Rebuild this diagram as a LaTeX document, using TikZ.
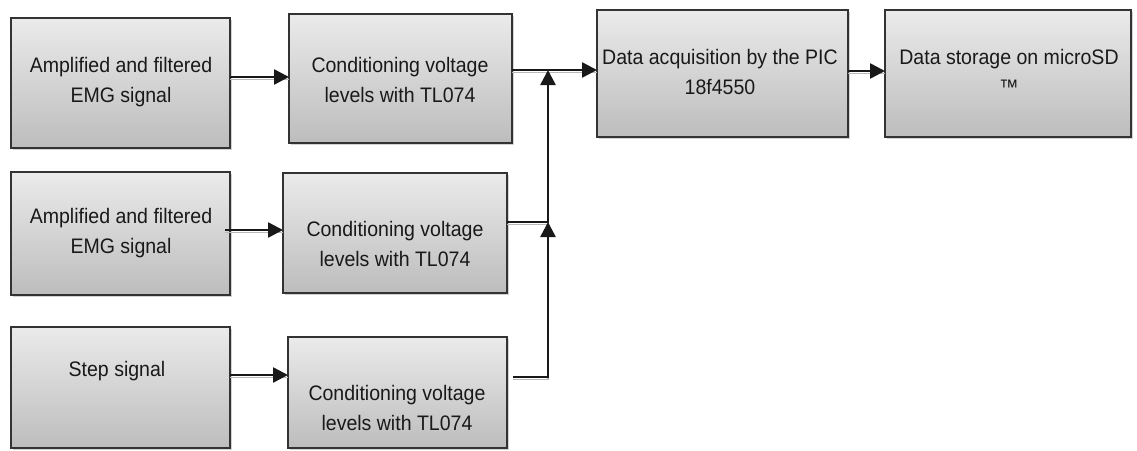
\documentclass[tikz,border=0pt]{standalone}
\usepackage{fontspec}
\setmainfont[FakeStretch=0.93]{Liberation Sans}
\usetikzlibrary{arrows.meta,shadows,calc}
\begin{document}
\begin{tikzpicture}[x=1pt,y=-1pt,
  blk/.style={draw=black!80, line width=1.6pt, top color=gray!16, bottom color=gray!52,
    inner sep=0pt, outer sep=0pt,
    drop shadow={shadow xshift=1.5pt, shadow yshift=-2pt, opacity=0.35, fill=gray}},
  txt/.style={font=\fontsize{21}{30}\selectfont, text=black!90, align=center, inner sep=0pt},
  arr/.style={line width=2.6pt, draw=black!90, -{Triangle[length=15pt,width=15pt]},
    preaction={draw=gray!55, line width=1.2pt, -, transform canvas={yshift=-2.8pt}}}]
\useasboundingbox (0,0) rectangle (1137,450);

% boxes
\node[blk, minimum width=219pt, minimum height=130pt] (a1) at (120.5,83) {};
\node[blk, minimum width=223pt, minimum height=129pt] (c1) at (400.5,78.5) {};
\node[blk, minimum width=251pt, minimum height=127pt] (d)  at (722.5,73.5) {};
\node[blk, minimum width=246pt, minimum height=127pt] (s)  at (1008,73.5) {};
\node[blk, minimum width=219pt, minimum height=123pt] (a2) at (120.5,233.5) {};
\node[blk, minimum width=224pt, minimum height=120pt] (c2) at (395,233) {};
\node[blk, minimum width=219pt, minimum height=121pt] (st) at (120.5,387.5) {};
\node[blk, minimum width=219pt, minimum height=111pt] (c3) at (397.5,392.5) {};

% texts
\node[txt] (a1t) at (121,82) {Amplified and filtered\\EMG signal};
\node[txt] (c1t) at (400,80) {Conditioning voltage\\levels with TL074};
\node[txt] (dt)  at (720,72) {Data acquisition by the PIC\\18f4550};
\node[txt] (stt) at (1009,72) {Data storage on microSD\\™};
\node[txt] (a2t) at (121,233) {Amplified and filtered\\EMG signal};
\node[txt] (c2t) at (395,244) {Conditioning voltage\\levels with TL074};
\node[txt] (stp) at (117,371) {Step signal};
\node[txt] (c3t) at (397,408) {Conditioning voltage\\levels with TL074};

% junctions
\coordinate (jn1) at (548,70);
\coordinate (jn2) at (548,222);
\coordinate (jn3) at (548,377);

% connectors
\draw[arr] (a1.east |- 0,77) -- (c1.west |- 0,77);
\draw[arr] ([xshift=-5pt]a2.east |- 0,230) -- (c2.west |- 0,230);
\draw[arr] (st.east |- 0,375) -- (c3.west |- 0,375);
\draw[arr] (c1.east |- jn1) -- (d.west |- jn1);
\draw[arr] (d.east |- 0,71) -- (s.west |- 0,71);
\draw[arr] (c2.east |- jn2) -- (jn2) -- (jn1);
\draw[arr] ([xshift=6pt]c3.east |- jn3) -- (jn3) -- (jn2);
\end{tikzpicture}
\end{document}
